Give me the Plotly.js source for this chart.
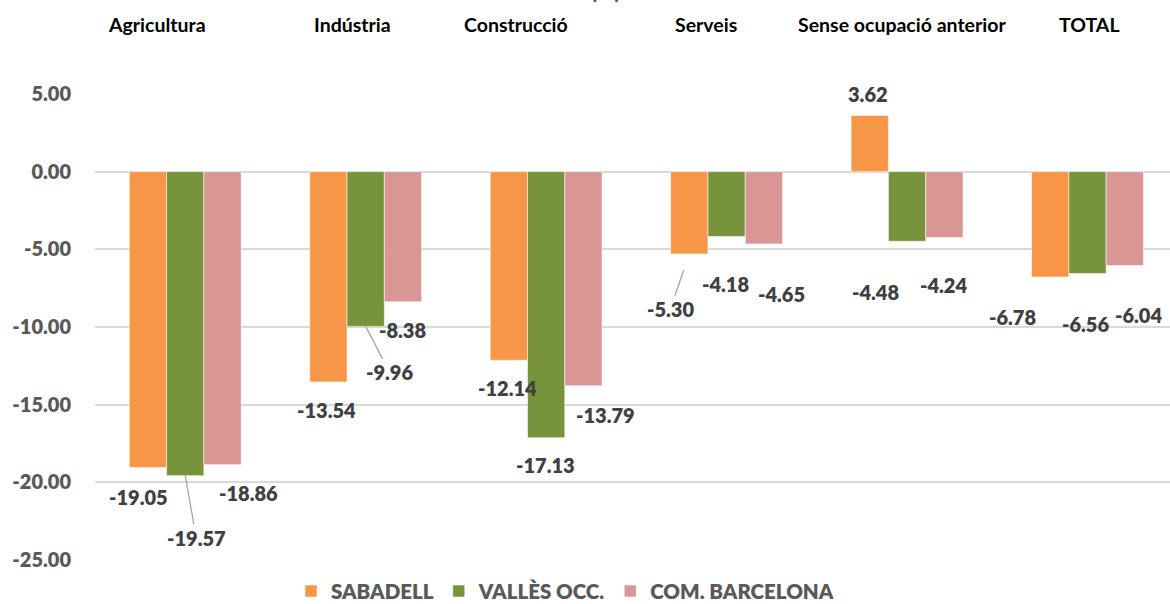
<!DOCTYPE html>
<html>
<head>
<meta charset="utf-8">
<script src="https://cdn.plot.ly/plotly-3.0.1.min.js"></script>
<style>
html,body{margin:0;padding:0;background:#fff;}
#chart{width:1170px;height:604px;}
</style>
</head>
<body>
<div id="chart"></div>
<script>
// ---- data ----
const categories = ["Agricultura", "Indústria", "Construcció", "Serveis", "Sense ocupació anterior", "TOTAL"];
const seriesNames = ["SABADELL", "VALLÈS OCC.", "COM. BARCELONA"];
const sabadell  = [-19.05, -13.54, -12.14, -5.30, 3.62, -6.78];
const valles    = [-19.57, -9.96, -17.13, -4.18, -4.48, -6.56];
const barcelona = [-18.86, -8.38, -13.79, -4.65, -4.24, -6.04];
const yTicks = [5, 0, -5, -10, -15, -20, -25];
const chartTitle = "(%)";

// ---- styles / positions ----
const colors = ["#F79646", "#77933C", "#D99694"];
const FONT = "Lato, 'Open Sans', sans-serif";
const W = 800;
const bargap = 0.38;
const barW = (1 - bargap) / 3;
// label offsets (pixels) from bar end: [dx, dy(down)], per series per category
const labelDx = [
  [-9, -2, -1, -19, -2, -38],
  [11, 24, -1, -1, -32, -2],
  [26, 0, 22, 18, -1, 14]
];
const labelDy = [
  [29, 28, 28, 55, -21, 40],
  [62, 46, 27, 47, 51, 50],
  [28, 28, 29, 50, 47, 50]
];
const leader = [
  [false, false, false, true, false, false],
  [true, true, false, false, false, false],
  [false, false, false, false, false, false]
];
const leaderStandoff = [
  [0, 0, 0, 17, 0, 0],
  [0, 0, 0, 0, 0, 0],
  [0, 0, 0, 0, 0, 0]
];
const headerShift = [-28, -13, -30, -21, -5, 2];

const series = [sabadell, valles, barcelona];

const traces = series.map((vals, j) => ({
  type: "bar",
  name: seriesNames[j],
  x: categories,
  y: vals,
  marker: {color: colors[j], line: {color: "rgba(255,255,255,0.55)", width: 1}},
  hoverinfo: "x+y+name"
}));

const annotations = [];
series.forEach((vals, j) => {
  vals.forEach((v, i) => {
    const base = {
      x: i + (j - 1) * barW,
      y: v,
      xref: "x", yref: "y",
      text: v.toFixed(2),
      font: {family: FONT, size: 20, color: "#404040", weight: W},
      xanchor: "center", yanchor: "middle"
    };
    if (leader[j][i]) {
      Object.assign(base, {
        showarrow: true, arrowhead: 0, arrowwidth: 1.3, arrowcolor: "#A6A6A6",
        ax: labelDx[j][i], ay: labelDy[j][i], axref: "pixel", ayref: "pixel",
        standoff: leaderStandoff[j][i]
      });
    } else {
      Object.assign(base, {showarrow: false, xshift: labelDx[j][i], yshift: -labelDy[j][i]});
    }
    annotations.push(base);
  });
});

categories.forEach((c, i) => {
  annotations.push({
    x: i, y: 1.150, xref: "x", yref: "paper",
    text: c, showarrow: false, xshift: headerShift[i],
    xanchor: "center", yanchor: "middle",
    font: {family: FONT, size: 19.5, color: "#000000", weight: 700}
  });
});

annotations.push({
  x: (605 - 95) / 1075, y: 1.223, xref: "paper", yref: "paper",
  text: chartTitle, showarrow: false, xanchor: "center", yanchor: "middle",
  font: {family: FONT, size: 21, color: "#595959", weight: W}
});

const layout = {
  width: 1170, height: 604,
  margin: {l: 95, r: 0, t: 94, b: 44, autoexpand: false},
  paper_bgcolor: "#ffffff", plot_bgcolor: "#ffffff",
  barmode: "group", bargap: bargap, bargroupgap: 0,
  showlegend: true,
  legend: {
    orientation: "h", x: (565 - 95) / 1075, xanchor: "center", y: -0.067, yanchor: "middle",
    font: {family: FONT, size: 20.5, color: "#595959", weight: W},
    itemclick: false, itemdoubleclick: false, traceorder: "normal"
  },
  xaxis: {
    type: "category", range: [-0.5, 5.457], showticklabels: false,
    showgrid: false, zeroline: false, showline: false, ticks: "", fixedrange: true
  },
  yaxis: {
    range: [-25, 5], tickmode: "array", tickvals: yTicks,
    ticktext: yTicks.map(t => t.toFixed(2)),
    showgrid: true, gridcolor: "#D9D9D9", gridwidth: 1.5,
    zeroline: true, zerolinecolor: "#D9D9D9", zerolinewidth: 1.5,
    showline: false, ticks: "", ticklabelstandoff: 23,
    tickfont: {family: FONT, size: 20, color: "#595959", weight: W},
    fixedrange: true
  },
  annotations: annotations
};

Plotly.newPlot("chart", traces, layout, {displayModeBar: false});
</script>
</body>
</html>
